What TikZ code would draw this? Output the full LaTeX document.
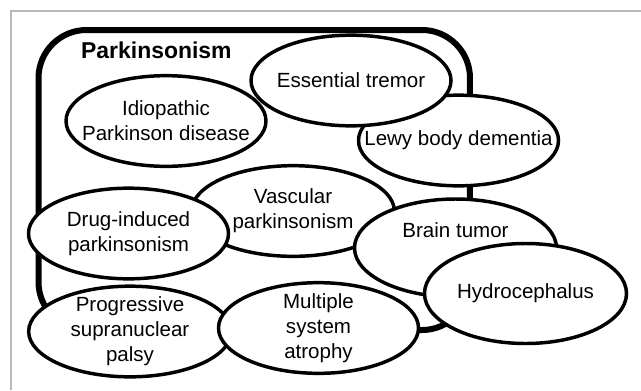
\documentclass[tikz,border=0pt]{standalone}
\usepackage{fontspec}
\setmainfont{Liberation Sans}
\usepackage{tikz}
\usetikzlibrary{shapes, positioning}

\begin{document}
\begin{tikzpicture}[x=0.75pt, y=-0.75pt, thick]
        \tikzstyle{frame} = [draw=gray!55, line width=1pt]
        \tikzstyle{group} = [draw, rectangle, rounded corners=36pt, line width=4.5pt, minimum width=323.6pt, minimum height=225pt]
        \tikzstyle{groupname} = [font=\fontsize{17.2pt}{20pt}\selectfont\bfseries]
        \tikzstyle{disorder} = [draw, ellipse, fill=white, line width=2.6pt, inner sep=-20pt, minimum width=150pt, minimum height=68pt, align=center, font=\fontsize{15.4pt}{18.75pt}\selectfont]

        \useasboundingbox (0,0) rectangle (641,390);

        % outer frame
        \draw [frame] (11,390) |- (641,11);

        % Parkinsonism group
        \node [group] (parkinsonism) at (254.25,180) {};
        \node [groupname, below right=7.5pt and 30.5pt of parkinsonism.north west] (pkname) {Parkinsonism};

        % disorders
        \node [disorder] (lewy) at (458.5,140.5) {Lewy body dementia};
        \node [disorder] (tremor) at (351,80.5) {Essential tremor};
        \node [disorder] (ipd) at (166,121) {Idiopathic\\Parkinson disease};
        \node [disorder, minimum width=152pt] (vascular) at (293,211) {Vascular\\parkinsonism};
        \node [disorder] (drug) at (128.5,233.5) {Drug-induced\\parkinsonism};
        \node [disorder, minimum width=151.5pt, minimum height=73.5pt, text depth=27pt] (tumor) at (455.5,248) {Brain tumor};
        \node [disorder, minimum width=151.5pt, minimum height=75pt] (hydro) at (525.5,293.5) {Hydrocephalus};
        \node [disorder, minimum width=152pt] (psp) at (130,331.5) {Progressive\\supranuclear\\palsy};
        \node [disorder] (msa) at (318.5,328) {Multiple\\system\\atrophy};

    \end{tikzpicture}
\end{document}
